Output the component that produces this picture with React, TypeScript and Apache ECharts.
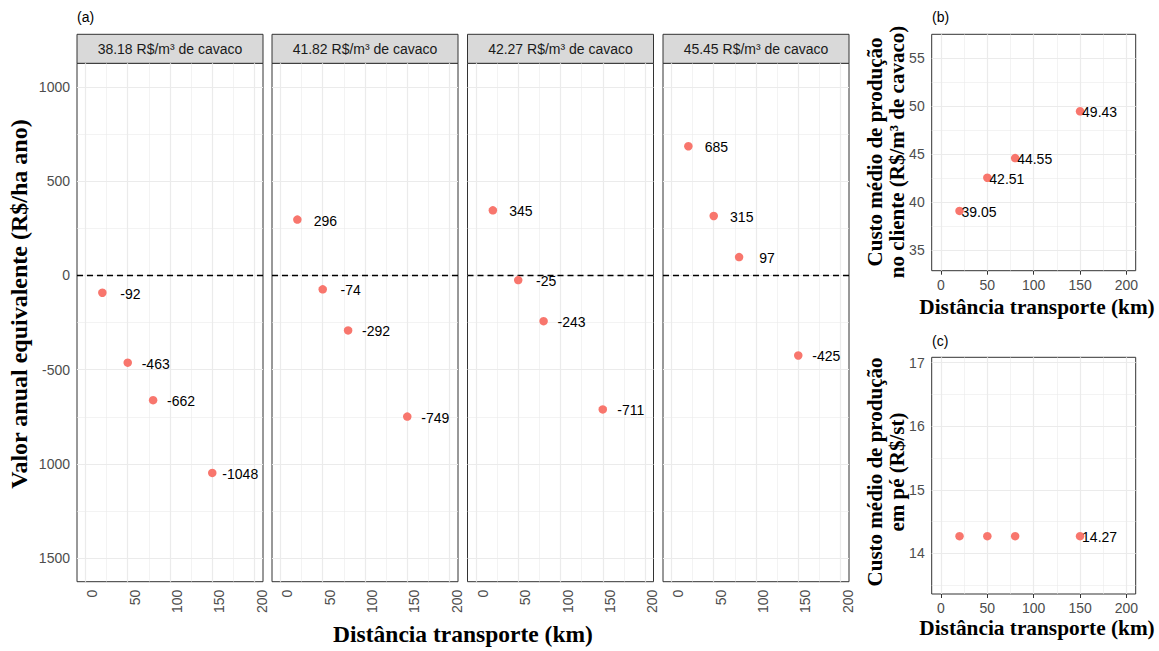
import React, { useEffect, useRef } from 'react';
import * as echarts from 'echarts';

// ---------------- data ----------------
const distances = [20, 50, 80, 150];
const facetLabels = [
  '38.18 R$/m³ de cavaco',
  '41.82 R$/m³ de cavaco',
  '42.27 R$/m³ de cavaco',
  '45.45 R$/m³ de cavaco',
];
const vaeFacet1 = [-92, -463, -662, -1048];
const vaeFacet2 = [296, -74, -292, -749];
const vaeFacet3 = [345, -25, -243, -711];
const vaeFacet4 = [685, 315, 97, -425];
const custoCliente = [39.05, 42.51, 44.55, 49.43];
const custoPe = [14.27, 14.27, 14.27, 14.27];
const custoPeLabels = ['', '', '', '14.27'];

const xTicks = [0, 50, 100, 150, 200];
const xMinor = [25, 75, 125, 175];
const yTicksA = [-1500, -1000, -500, 0, 500, 1000];
const yTickLabelsA = ['1500', '1000', '-500', '0', '500', '1000'];
const yMinorA = [-1250, -750, -250, 250, 750];
const yTicksB = [35, 40, 45, 50, 55];
const yMinorB = [37.5, 42.5, 47.5, 52.5];
const yTicksC = [14, 15, 16, 17];
const yMinorC = [13.5, 14.5, 15.5, 16.5];

// ---------------- styles / layout ----------------
const SANS = "'Liberation Sans', Arial, sans-serif";
const SERIF = "'Liberation Serif', 'Times New Roman', serif";
const POINT = '#F8766D';
const GRID_COL = '#EBEBEB';
const TICK_COL = '#4D4D4D';
const SYM = 8.5;

const facetLefts = [77, 272, 467.5, 663];
const facetWidth = 186;
const facetTop = 63.3;
const facetHeight = 518.4;
const stripTop = 34.3;

export default function App() {
  const ref = useRef<HTMLDivElement>(null);

  useEffect(() => {
    if (!ref.current) return;
    const chart = echarts.init(ref.current, undefined, { renderer: 'svg' });

    const grids: any[] = [];
    const xAxes: any[] = [];
    const yAxes: any[] = [];
    const series: any[] = [];

    const gridLines = (idx: number, xs: number[], xm: number[], ys: number[], ym: number[], zero: boolean) => {
      const data: any[] = [];
      xm.forEach((v) => data.push({ xAxis: v, lineStyle: { color: GRID_COL, width: 0.6, type: 'solid' } }));
      ym.forEach((v) => data.push({ yAxis: v, lineStyle: { color: GRID_COL, width: 0.6, type: 'solid' } }));
      xs.forEach((v) => data.push({ xAxis: v, lineStyle: { color: GRID_COL, width: 1.2, type: 'solid' } }));
      ys.forEach((v) => data.push({ yAxis: v, lineStyle: { color: GRID_COL, width: 1.2, type: 'solid' } }));
      if (zero) data.push({ yAxis: 0, lineStyle: { color: '#000', width: 1.3, type: [6, 4] } });
      series.push({
        type: 'line',
        xAxisIndex: idx,
        yAxisIndex: idx,
        data: [],
        z: 1,
        silent: true,
        markLine: {
          z: 1,
          silent: true,
          symbol: ['none', 'none'],
          label: { show: false },
          animation: false,
          data,
        },
      });
    };

    const xAxisBase = (idx: number, rotate: boolean) => ({
      type: 'value',
      gridIndex: idx,
      min: -10,
      max: 210,
      axisLine: { show: false },
      splitLine: { show: false },
      axisTick: { show: true, customValues: xTicks, length: 4, lineStyle: { color: '#333', width: 1 } },
      axisLabel: rotate
        ? { show: true, customValues: xTicks, rotate: 90, verticalAlign: 'top', margin: 8, color: TICK_COL, fontSize: 14, fontFamily: SANS }
        : { show: true, customValues: xTicks, margin: 7, color: TICK_COL, fontSize: 14, fontFamily: SANS },
    });

    const pointLabel = (dx: number, align: string, fmt: (p: any) => string) => ({
      show: true,
      position: [SYM / 2 + dx, SYM / 2 + 1],
      align,
      verticalAlign: 'middle',
      color: '#000',
      fontSize: 14,
      fontFamily: SANS,
      textBorderWidth: 0,
      formatter: fmt,
    });

    const pointStyle = { color: POINT, opacity: 1, borderWidth: 0 };

    // ---- panel (a): four facets ----
    const facetValues = [vaeFacet1, vaeFacet2, vaeFacet3, vaeFacet4];
    facetValues.forEach((vals, i) => {
      grids.push({
        left: facetLefts[i],
        top: facetTop,
        width: facetWidth,
        height: facetHeight,
        show: true,
        backgroundColor: '#fff',
        borderColor: '#333',
        borderWidth: 1,
      });
      xAxes.push(xAxisBase(i, true));
      yAxes.push({
        type: 'value',
        gridIndex: i,
        min: -1625,
        max: 1125,
        axisLine: { show: false },
        splitLine: { show: false },
        axisTick: i === 0 ? { show: true, customValues: yTicksA, length: 4, lineStyle: { color: '#333', width: 1 } } : { show: false },
        axisLabel:
          i === 0
            ? {
                show: true,
                customValues: yTicksA,
                margin: 7,
                color: TICK_COL,
                fontSize: 14,
                fontFamily: SANS,
                formatter: (v: number) => {
                  const k = yTicksA.indexOf(v);
                  return k >= 0 ? yTickLabelsA[k] : String(v);
                },
              }
            : { show: false },
      });
      gridLines(i, xTicks, xMinor, yTicksA, yMinorA, true);
      series.push({
        type: 'scatter',
        xAxisIndex: i,
        yAxisIndex: i,
        z: 3,
        symbol: 'circle',
        symbolSize: SYM,
        itemStyle: pointStyle,
        data: distances.map((d, j) => [d, vals[j]]),
        label: pointLabel(28, 'center', (p: any) => String(p.value[1])),
      });
    });

    // ---- panel (b) ----
    const ib = 4;
    grids.push({ left: 931.7, top: 34.3, width: 204, height: 236.4, show: true, backgroundColor: '#fff', borderColor: '#333', borderWidth: 1 });
    xAxes.push(xAxisBase(ib, false));
    yAxes.push({
      type: 'value',
      gridIndex: ib,
      min: 32.82,
      max: 57.45,
      axisLine: { show: false },
      splitLine: { show: false },
      axisTick: { show: true, customValues: yTicksB, length: 4, lineStyle: { color: '#333', width: 1 } },
      axisLabel: { show: true, customValues: yTicksB, margin: 7, color: TICK_COL, fontSize: 14, fontFamily: SANS },
    });
    gridLines(ib, xTicks, xMinor, yTicksB, yMinorB, false);
    series.push({
      type: 'scatter',
      xAxisIndex: ib,
      yAxisIndex: ib,
      z: 3,
      symbol: 'circle',
      symbolSize: SYM,
      itemStyle: pointStyle,
      data: distances.map((d, j) => [d, custoCliente[j]]),
      label: pointLabel(2, 'left', (p: any) => p.value[1].toFixed(2)),
    });

    // ---- panel (c) ----
    const ic = 5;
    grids.push({ left: 931.7, top: 357.3, width: 204, height: 236.7, show: true, backgroundColor: '#fff', borderColor: '#333', borderWidth: 1 });
    xAxes.push(xAxisBase(ic, false));
    yAxes.push({
      type: 'value',
      gridIndex: ic,
      min: 13.36,
      max: 17.085,
      axisLine: { show: false },
      splitLine: { show: false },
      axisTick: { show: true, customValues: yTicksC, length: 4, lineStyle: { color: '#333', width: 1 } },
      axisLabel: { show: true, customValues: yTicksC, margin: 7, color: TICK_COL, fontSize: 14, fontFamily: SANS },
    });
    gridLines(ic, xTicks, xMinor, yTicksC, yMinorC, false);
    series.push({
      type: 'scatter',
      xAxisIndex: ic,
      yAxisIndex: ic,
      z: 3,
      symbol: 'circle',
      symbolSize: SYM,
      itemStyle: pointStyle,
      data: distances.map((d, j) => [d, custoPe[j]]),
      label: pointLabel(2, 'left', (p: any) => custoPeLabels[p.dataIndex]),
    });

    // ---- graphic decorations ----
    const txt = (text: string, x: number, y: number, opts: any = {}) => ({
      type: 'text',
      x,
      y,
      rotation: opts.rotation || 0,
      silent: true,
      style: {
        text,
        fill: opts.fill || '#000',
        fontSize: opts.fontSize || 14,
        fontFamily: opts.fontFamily || SANS,
        fontWeight: opts.fontWeight || 'normal',
        lineHeight: opts.lineHeight,
        align: opts.align || 'center',
        textAlign: opts.align || 'center',
        verticalAlign: 'middle',
        textVerticalAlign: 'middle',
      },
    });

    const graphics: any[] = [];
    facetLabels.forEach((lab, i) => {
      graphics.push({
        type: 'rect',
        silent: true,
        shape: { x: facetLefts[i], y: stripTop, width: facetWidth, height: facetTop - stripTop },
        style: { fill: '#D9D9D9', stroke: '#333', lineWidth: 1 },
      });
      graphics.push(txt(lab, facetLefts[i] + facetWidth / 2, (stripTop + facetTop) / 2 + 0.5, { fill: '#1A1A1A' }));
    });
    graphics.push(txt('(a)', 77, 17, { align: 'left', fontSize: 14 }));
    graphics.push(txt('(b)', 932, 17, { align: 'left', fontSize: 14 }));
    graphics.push(txt('(c)', 932, 341, { align: 'left', fontSize: 14 }));

    graphics.push(
      txt('Valor anual equivalente (R$/ha ano)', 19, 304, { rotation: Math.PI / 2, fontSize: 24, fontFamily: SERIF, fontWeight: 'bold' })
    );
    graphics.push(txt('Distância transporte (km)', 463, 634, { fontSize: 23.5, fontFamily: SERIF, fontWeight: 'bold' }));

    graphics.push(
      txt('Custo médio de produção\nno cliente (R$/m³ de cavaco)', 886, 152, {
        rotation: Math.PI / 2,
        fontSize: 21,
        fontFamily: SERIF,
        fontWeight: 'bold',
        lineHeight: 22,
      })
    );
    graphics.push(txt('Distância transporte (km)', 1037, 307, { fontSize: 21.3, fontFamily: SERIF, fontWeight: 'bold' }));

    graphics.push(
      txt('Custo médio de produção\nem pé (R$/st)', 886, 472, {
        rotation: Math.PI / 2,
        fontSize: 21,
        fontFamily: SERIF,
        fontWeight: 'bold',
        lineHeight: 22,
      })
    );
    graphics.push(txt('Distância transporte (km)', 1037, 628, { fontSize: 21.3, fontFamily: SERIF, fontWeight: 'bold' }));

    chart.setOption({
      animation: false,
      backgroundColor: '#fff',
      grid: grids,
      xAxis: xAxes,
      yAxis: yAxes,
      series,
      graphic: { elements: graphics },
    });

    return () => chart.dispose();
  }, []);

  return <div ref={ref} style={{ position: 'fixed', left: 0, top: 0, width: 1159, height: 651 }} />;
}
